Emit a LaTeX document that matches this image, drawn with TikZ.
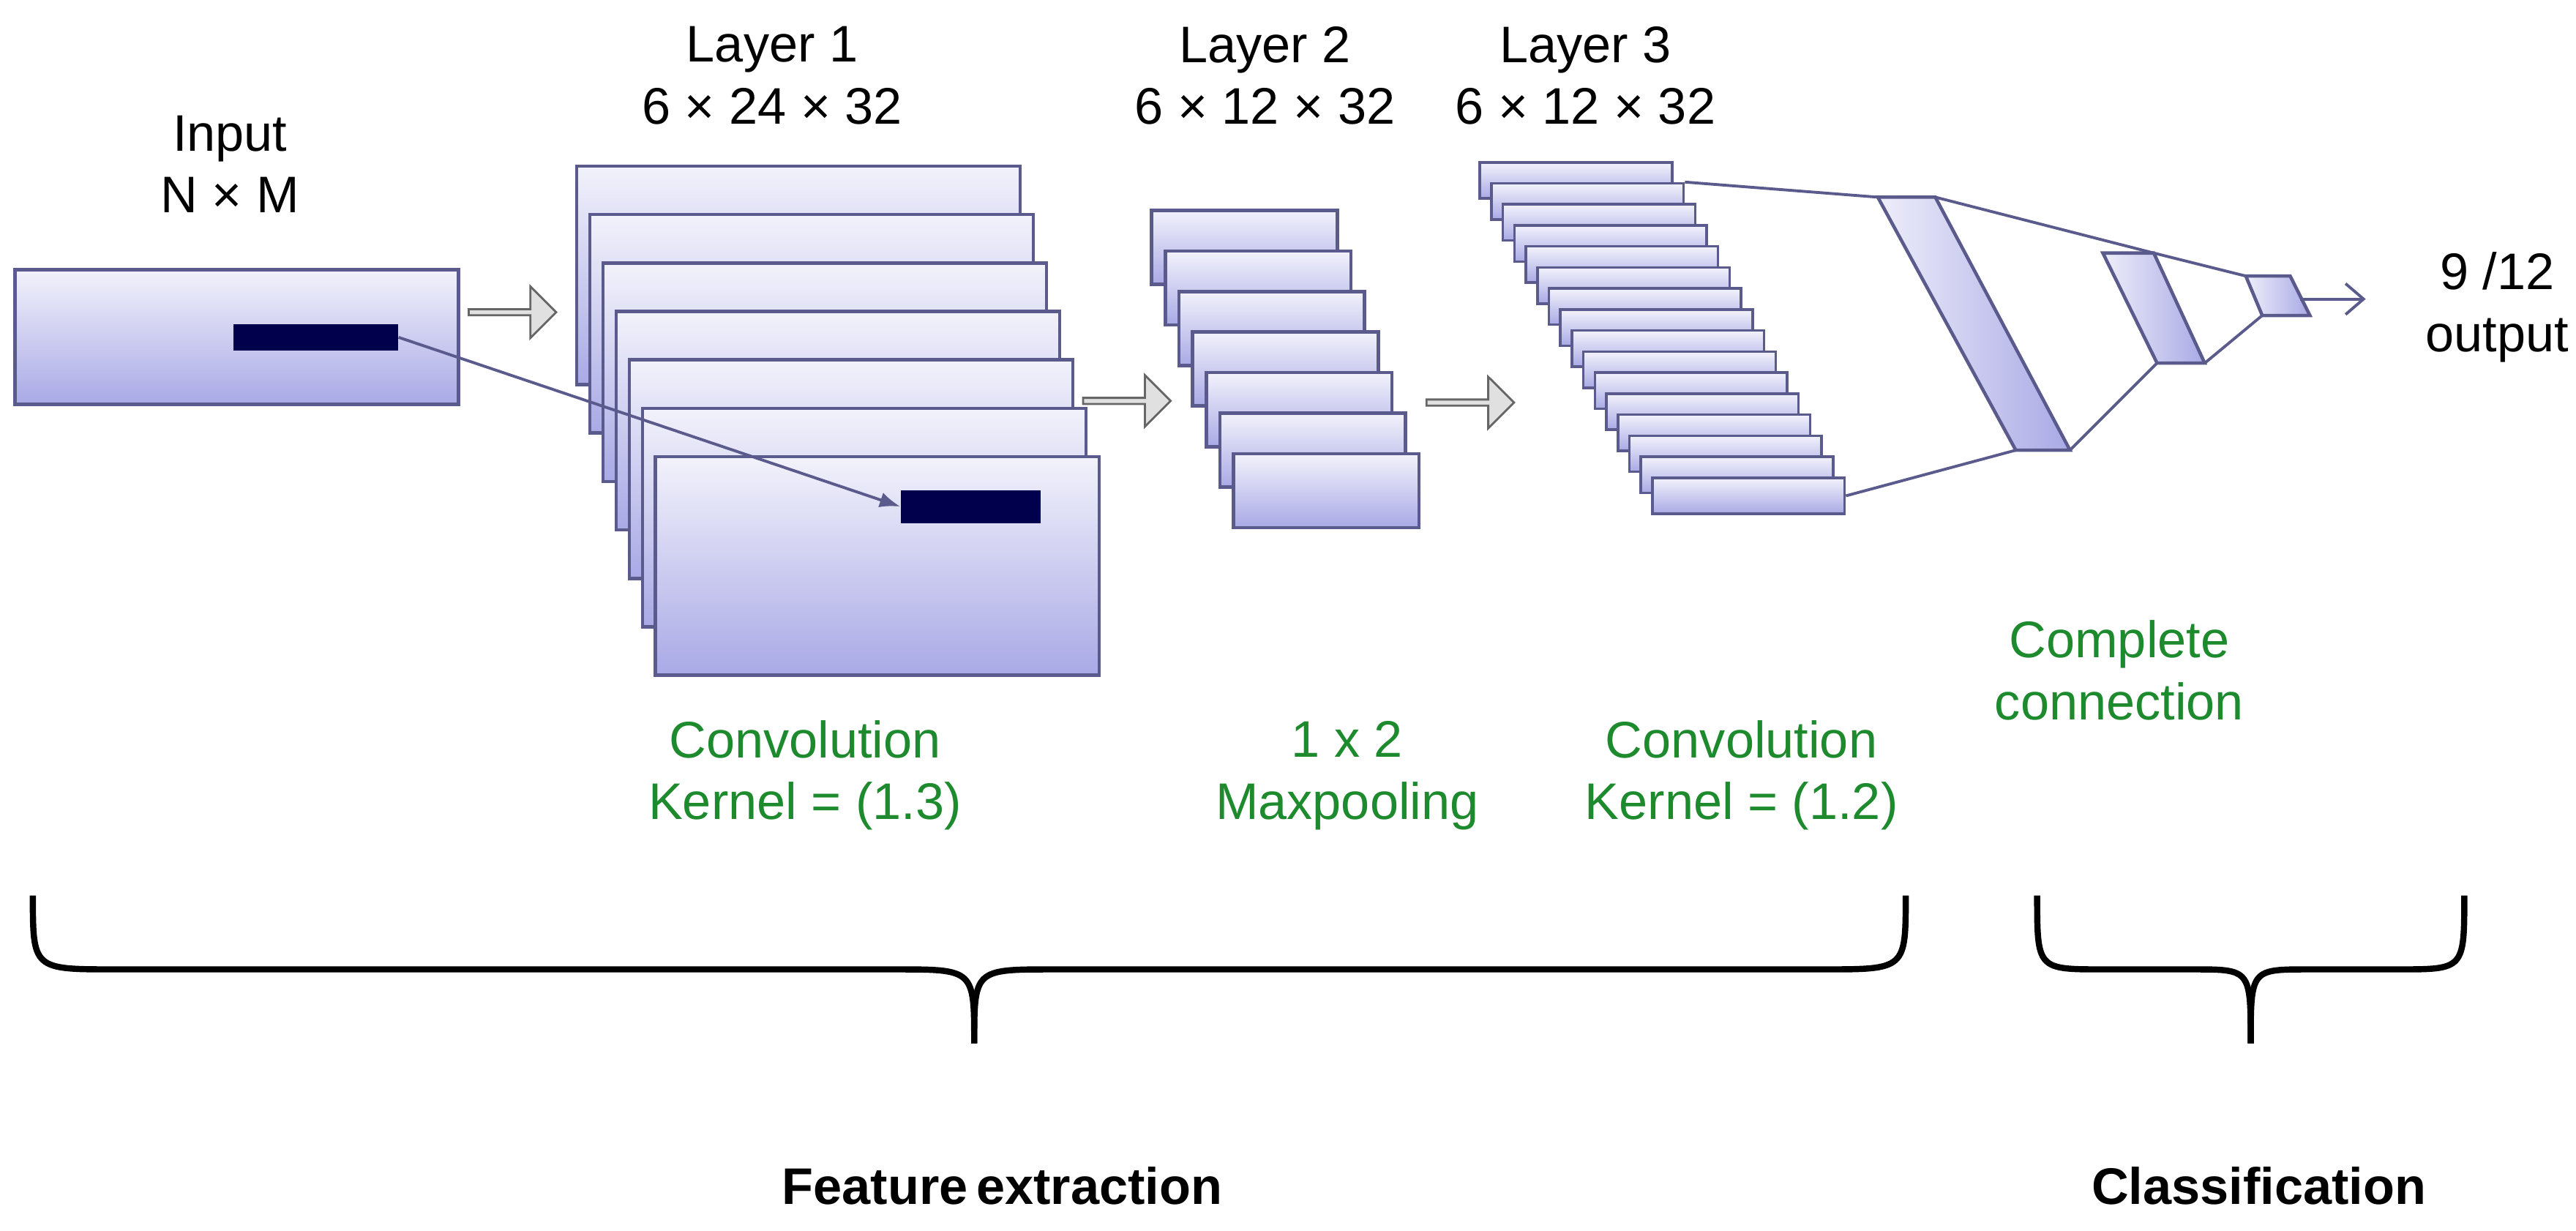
\documentclass[tikz,border=0pt]{standalone}
\usepackage{fontspec}
\setmainfont{Liberation Sans}
\usetikzlibrary{shapes.arrows,arrows.meta}
\definecolor{edge}{HTML}{5A5A8C}
\definecolor{lav}{HTML}{A9A9E6}
\definecolor{grn}{HTML}{1E8A2E}
\begin{document}
\begin{tikzpicture}[x=0.02245cm,y=-0.02245cm,
  box/.style={draw=edge,line width=1.3pt,top color=white!85!lav,bottom color=lav,anchor=north west,inner sep=0pt},
  bar/.style={fill=black!40!blue!50!black,draw=none,anchor=north west,inner sep=0pt},
  lab/.style={font=\fontsize{20}{24}\selectfont,align=center},
  glab/.style={lab,text=grn},
  blab/.style={font=\bfseries\fontsize{20}{24}\selectfont},
  conn/.style={draw=edge,line width=1.1pt},
  blk/.style={single arrow,draw=black!60,fill=black!12,line width=0.8pt,minimum width=20,minimum height=34,single arrow head extend=3,inner sep=0pt},
  brace/.style={line width=2.4pt,draw=black}]
\useasboundingbox (0,0) rectangle (1568,749);
% input
\node[box,minimum width=270*0.02245cm,minimum height=82*0.02245cm] (in) at (8,163) {};
\node[bar,minimum width=100*0.02245cm,minimum height=16*0.02245cm] (inbar) at (142,197) {};
\node[lab] (tin) at (140,100) {Input\\N × M};
% layer 1
\foreach \i in {0,...,6}{
  \node[box,minimum width=270*0.02245cm,minimum height=133*0.02245cm] (l1\i) at (350+8*\i,100+29.5*\i) {};
}
\node[bar,minimum width=85*0.02245cm,minimum height=20*0.02245cm] (l1bar) at (548,298) {};
\draw[conn,-{Latex[length=8pt]}] (inbar.east) -- (l1bar.west);
\node[lab] (t1) at (470,46) {Layer 1\\6 × 24 × 32};
% layer 2
\foreach \i in {0,...,6}{
  \node[box,minimum width=113*0.02245cm,minimum height=45*0.02245cm] (l2\i) at (700+8.3*\i,127+24.7*\i) {};
}
\node[lab] (t2) at (770,46) {Layer 2\\6 × 12 × 32};
% layer 3
\foreach \i in {0,...,15}{
  \node[box,line width=1pt,minimum width=117*0.02245cm,minimum height=22*0.02245cm] (l3\i) at (900+7*\i,98+12.8*\i) {};
}
\node[lab] (t3) at (965,46) {Layer 3\\6 × 12 × 32};
% block arrows
\node[blk] (a1) at (311,190) {};
\node[blk] (a2) at (685,244) {};
\node[blk] (a3) at (894,245) {};
% fully connected
\coordinate (p1a) at (1143,120); \coordinate (p1b) at (1178,120);
\coordinate (p1c) at (1260,274); \coordinate (p1d) at (1227,274);
\coordinate (p2a) at (1280,154); \coordinate (p2b) at (1311,154);
\coordinate (p2c) at (1342,221); \coordinate (p2d) at (1313,221);
\coordinate (p3a) at (1367,168); \coordinate (p3b) at (1394,168);
\coordinate (p3c) at (1406,192); \coordinate (p3d) at (1377,192);
\foreach \p in {p1,p2,p3}{
  \path[draw=edge,line width=1.3pt,left color=white!80!lav,right color=lav] (\p a) -- (\p b) -- (\p c) -- (\p d) -- cycle;
}
\draw[conn] (l31.north east) -- (p1a);
\draw[conn] (l315.east) -- (p1d);
\draw[conn] (p1b) -- (p2b) -- (p3a);
\draw[conn] (p1c) -- (p2d);
\draw[conn] (p2c) -- (p3d);
\coordinate (out) at (1440,182);
\draw[conn,-{Straight Barb[length=7pt,width=12pt]}] (1400,182) -- (out);
\node[lab] (tout) at (1520,187) {9 /12\\output};
% green labels
\node[glab] (g0) at (1290,408) {Complete\\connection};
\node[glab] (g1) at (490,472) {Convolution\\Kernel = (1.3)};
\node[glab] (g2) at (820,472) {1 x 2\\Maxpooling};
\node[glab] (g3) at (1060,472) {Convolution\\Kernel = (1.2)};
% braces
\draw[brace] (20,545) .. controls (20,590) and (20,590) .. (70,590) -- (545,590) .. controls (593,590) and (593,590) .. (593,635);
\draw[brace] (1160,545) .. controls (1160,590) and (1160,590) .. (1110,590) -- (641,590) .. controls (593,590) and (593,590) .. (593,635);
\draw[brace] (1240,545) .. controls (1240,590) and (1240,590) .. (1280,590) -- (1335,590) .. controls (1370,590) and (1370,590) .. (1370,635);
\draw[brace] (1500,545) .. controls (1500,590) and (1500,590) .. (1460,590) -- (1405,590) .. controls (1370,590) and (1370,590) .. (1370,635);
\node[blab] (fe) at (610,722) {Feature\,extraction};
\node[blab] (cl) at (1375,722) {Classification};
\end{tikzpicture}
\end{document}
